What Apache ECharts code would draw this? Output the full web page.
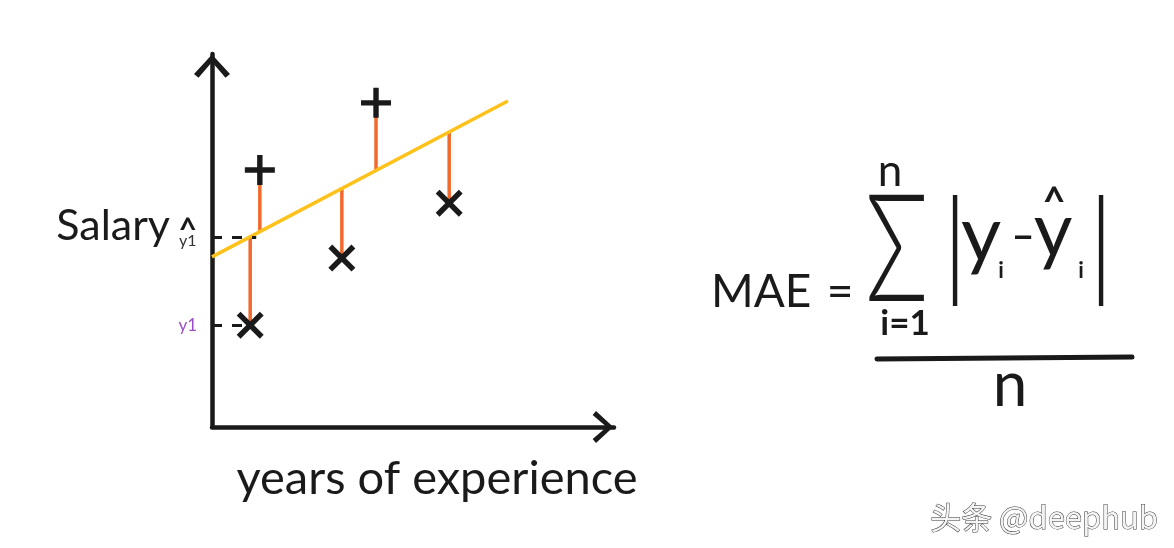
<!DOCTYPE html>
<html><head><meta charset="utf-8">
<script src="https://cdn.jsdelivr.net/npm/echarts@6/dist/echarts.min.js"></script>
<style>html,body{margin:0;padding:0;background:#fff}#c{width:1174px;height:548px}</style>
</head><body><div id="c"></div>
<script>
// ---- data ----
const plusX = [1.19, 4.08];
const plusY = [6.89, 8.69];
const plusFit = [5.24, 6.86];
const crossX = [0.95, 3.23, 5.90];
const crossY = [2.73, 4.53, 6.00];
const crossFit = [5.10, 6.40, 7.89];
const fitX = [0, 7.36];
const fitY = [4.56, 8.74];
const xName = 'years of experience';
const yName = 'Salary';
const hatLabel = 'y1';
const obsLabel = 'y1';
const watermark = '头条 @deephub';

const chevron = 'path://M-12,13 L0,0 L12,13 L9,15.5 L0,5 L-9,15.5 Z';
const plusPath = 'path://M-2.7,-15 L2.7,-15 L2.7,15 L-2.7,15 Z M-15,-2.7 L15,-2.7 L15,2.7 L-15,2.7 Z';
const crossPath = 'path://M-10,-14 L14,10 L10,14 L-14,-10 Z M14,-10 L-10,14 L-14,10 L10,-14 Z';

const INK = '#1a1a1a';
const FONT = 'Lato';

const residuals = plusX.map((x, i) => [x, plusY[i], plusFit[i]])
  .concat(crossX.map((x, i) => [x, crossY[i], crossFit[i]]));

const chart = echarts.init(document.getElementById('c'));

function txt(text, x, y, size, opts) {
  opts = opts || {};
  return {
    type: 'text', x: x, y: y, scaleX: opts.sx || 1, scaleY: opts.sy || 1, z: 10,
    style: {
      text: text, fontSize: size, fontFamily: opts.font || FONT,
      fontWeight: opts.weight || 'normal', fill: opts.color || INK,
      align: opts.align || 'center', verticalAlign: 'middle'
    }
  };
}

chart.setOption({
  animation: false,
  backgroundColor: '#fff',
  grid: { left: 212, right: 560, top: 54, bottom: 121 },
  xAxis: {
    type: 'value', min: 0, max: 10,
    name: xName, nameLocation: 'middle', nameGap: 28,
    nameTextStyle: { fontSize: 47, fontFamily: FONT, color: INK, padding: [0, 0, 0, 48] },
    axisLine: { show: true, onZero: false, lineStyle: { color: INK, width: 4.5 },
      symbol: ['none', chevron], symbolSize: [32, 22], symbolOffset: [0, -11] },
    axisTick: { show: false }, axisLabel: { show: false }, splitLine: { show: false }
  },
  yAxis: {
    type: 'value', min: 0, max: 10,
    name: yName, nameLocation: 'middle', nameRotate: 0, nameGap: 42,
    nameTextStyle: { fontSize: 43, fontFamily: FONT, color: INK, verticalAlign: 'bottom', lineHeight: 28 },
    axisLine: { show: true, onZero: false, lineStyle: { color: INK, width: 4.5 },
      symbol: ['none', chevron], symbolSize: [36, 24], symbolOffset: [0, -12] },
    axisTick: { show: false }, axisLabel: { show: false }, splitLine: { show: false }
  },
  series: [
    {
      type: 'custom', z: 2,
      encode: { x: 0, y: [1, 2] },
      data: residuals,
      renderItem: function (params, api) {
        const a = api.coord([api.value(0), api.value(1)]);
        const b = api.coord([api.value(0), api.value(2)]);
        return { type: 'line', shape: { x1: a[0], y1: a[1], x2: b[0], y2: b[1] },
          style: { stroke: '#F2692D', lineWidth: 3.5 } };
      }
    },
    {
      type: 'line', z: 3, symbol: 'none', silent: true,
      data: fitX.map((x, i) => [x, fitY[i]]),
      lineStyle: { color: '#FFC21A', width: 3.5 }
    },
    {
      type: 'scatter', z: 5, symbol: plusPath, symbolSize: 30,
      itemStyle: { color: INK, opacity: 1 },
      data: plusX.map((x, i) => [x, plusY[i]])
    },
    {
      type: 'scatter', z: 5, symbol: crossPath, symbolSize: 27,
      itemStyle: { color: INK, opacity: 1 },
      data: crossX.map((x, i) => [x, crossY[i]]),
      markLine: {
        silent: true, symbol: ['none', 'none'], z: 4,
        lineStyle: { color: INK, width: 3, type: [10, 10] },
        label: { show: true, position: 'start', distance: 15 },
        data: [
          [{ coord: [0, crossFit[0]],
             label: { formatter: '{h|^}\n{t|' + hatLabel + '}',
               rich: { h: { fontSize: 32, fontWeight: 'bold', fontFamily: FONT, color: INK, lineHeight: 18, align: 'center' },
                       t: { fontSize: 16, fontFamily: FONT, color: '#333', lineHeight: 12, align: 'center', padding: [0, 0, 10, 0] } } } },
           { coord: [1.1, crossFit[0]] }],
          [{ coord: [0, crossY[0]],
             label: { formatter: obsLabel, fontSize: 17, fontFamily: FONT, color: '#9B4DCA' } },
           { coord: [0.88, crossY[0]] }]
        ]
      }
    }
  ],
  graphic: [
    txt('MAE', 711, 292, 46, { align: 'left' }),
    txt('=', 840, 292, 46),
    txt('Σ', 897, 253, 110, { sx: 0.95, sy: 1.36, weight: 300 }),
    txt('n', 890, 172, 44),
    txt('i=1', 905, 324, 35, { weight: 'bold' }),
    txt('|', 955, 247, 118, { weight: 300 }),
    txt('y', 981, 236, 78),
    txt('i', 1001, 271, 22, { weight: 'bold' }),
    txt('–', 1023, 236, 40, { weight: 'bold' }),
    txt('y', 1053, 232, 75),
    txt('^', 1054, 203, 40, { weight: 'bold' }),
    txt('i', 1081, 271, 22, { weight: 'bold' }),
    txt('|', 1101, 247, 118, { weight: 300 }),
    { type: 'line', z: 10, shape: { x1: 877, y1: 359, x2: 1132, y2: 357 },
      style: { stroke: INK, lineWidth: 5, lineCap: 'round' } },
    txt('n', 1010, 386, 62),
    { type: 'text', x: 1158, y: 517, z: 10,
      style: { text: watermark, fontSize: 31, fontFamily: 'Noto Sans CJK SC', fill: '#f4f4f4',
        stroke: '#333', lineWidth: 1, align: 'right', verticalAlign: 'middle' } }
  ]
});
</script></body></html>
